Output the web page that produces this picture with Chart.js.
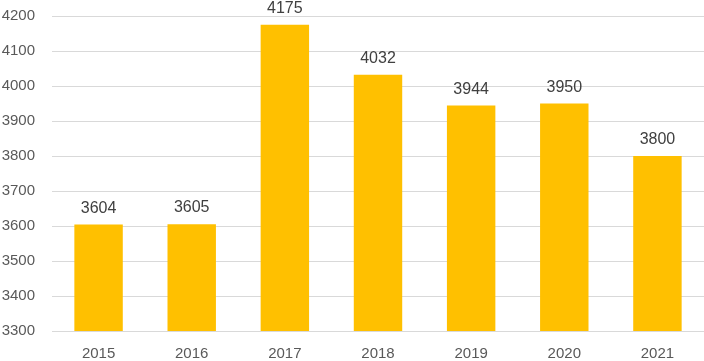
<!DOCTYPE html>
<html>
<head>
<meta charset="utf-8">
<script src="https://cdn.jsdelivr.net/npm/chart.js@4/dist/chart.umd.min.js"></script>
<style>
html,body{margin:0;padding:0;background:#fff;}
#wrap{width:704px;height:361px;position:relative;}
</style>
</head>
<body>
<div id="wrap"><canvas id="c" width="704" height="361"></canvas></div>
<script>
const categories = ['2015','2016','2017','2018','2019','2020','2021'];
const values = [3604, 3605, 4175, 4032, 3944, 3950, 3800];
const yMin = 3300, yMax = 4200, yStep = 100;

const labelPlugin = {
  id: 'valueLabels',
  afterDatasetsDraw(chart) {
    const ctx = chart.ctx;
    const meta = chart.getDatasetMeta(0);
    ctx.save();
    ctx.font = '16px "Liberation Sans", Arial, sans-serif';
    ctx.fillStyle = '#404040';
    ctx.textAlign = 'center';
    ctx.textBaseline = 'alphabetic';
    meta.data.forEach((bar, i) => {
      ctx.fillText(String(values[i]), bar.x, bar.y - 12);
    });
    ctx.restore();
  }
};

new Chart(document.getElementById('c'), {
  type: 'bar',
  data: {
    labels: categories,
    datasets: [{
      data: values,
      backgroundColor: '#FFC000',
      borderWidth: 0,
      categoryPercentage: 1,
      barPercentage: 0.52
    }]
  },
  options: {
    responsive: false,
    animation: false,
    layout: { padding: { top: 16, right: 0, left: 0, bottom: 0 }, autoPadding: false },
    plugins: { legend: { display: false }, tooltip: { enabled: false } },
    scales: {
      x: {
        grid: { display: false, drawTicks: false },
        border: { display: false },
        ticks: {
          color: '#595959',
          font: { family: '"Liberation Sans", Arial, sans-serif', size: 15 },
          padding: 14,
          maxRotation: 0
        },
        afterFit(s) { s.height = 30; s.paddingLeft = 0; s.paddingRight = 0; }
      },
      y: {
        min: yMin, max: yMax,
        grid: { color: '#D9D9D9', lineWidth: 1, drawTicks: false },
        border: { display: false },
        ticks: {
          stepSize: yStep,
          color: '#595959',
          font: { family: '"Liberation Sans", Arial, sans-serif', size: 15 },
          padding: 17,
          callback: (v) => String(v)
        },
        afterFit(s) { s.width = 52; s.paddingTop = 0; s.paddingBottom = 0; }
      }
    }
  },
  plugins: [labelPlugin]
});
</script>
</body>
</html>
